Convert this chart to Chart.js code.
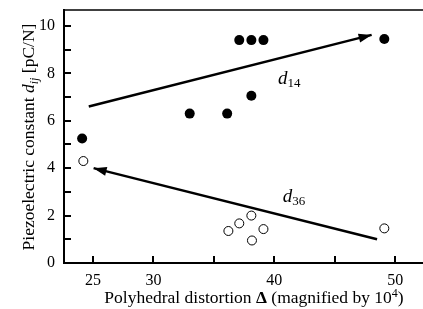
<!DOCTYPE html>
<html>
<head>
<meta charset="utf-8">
<script src="https://cdn.jsdelivr.net/npm/chart.js@4/dist/chart.umd.min.js"></script>
<style>
  html, body { margin: 0; padding: 0; background: #fff; }
  canvas { display: block; }
</style>
</head>
<body>
<canvas id="chart" width="423" height="309"></canvas>
<script>
// Data ---------------------------------------------------------------------------

var D14_X = [24.1, 33.0, 36.1, 37.1, 38.1, 38.1, 39.1, 49.1];
var D14_Y = [5.25, 6.3, 6.3, 9.4, 9.4, 7.05, 9.4, 9.45];

var D36_X = [24.2, 36.2, 37.1, 38.1, 38.15, 39.1, 49.1];
var D36_Y = [4.3, 1.35, 1.67, 2.0, 0.95, 1.43, 1.46];

// trend arrows: start point, end (tip) point
var ARROW_14_X = [24.65, 48.05];
var ARROW_14_Y = [6.6, 9.62];
var ARROW_36_X = [48.5, 25.05];
var ARROW_36_Y = [1.0, 4.0];

var X_TICKS = [25, 30, 35, 40, 45, 50];
var X_LABELS = [25, 30, 40, 50];
var Y_TICKS = [0, 1, 2, 3, 4, 5, 6, 7, 8, 9, 10];
var Y_LABELS = [0, 2, 4, 6, 8, 10];

// Style --------------------------------------------------------------------------

var FONT = '"Liberation Serif", "DejaVu Serif", serif';
var INK = '#000';
var TITLE_SIZE = 17.5;

function toPoints(xs, ys) {
    return xs.map(function (x, i) { return { x: x, y: ys[i] }; });
}

function setTicks(values) {
    return function (scale) {
        scale.ticks = values.map(function (v) { return { value: v }; });
    };
}

function drawMixed(ctx, parts, x, y, align) {
    var total = 0;
    parts.forEach(function (p) {
        ctx.font = p.font;
        p.w = ctx.measureText(p.text).width;
        total += p.w;
    });
    var cx = align === 'center' ? x - total / 2 : x;
    ctx.textAlign = 'left';
    ctx.textBaseline = 'alphabetic';
    parts.forEach(function (p) {
        ctx.font = p.font;
        ctx.fillText(p.text, cx, y + (p.dy || 0));
        cx += p.w;
    });
}

var decorPlugin = {
    id: 'decor',
    beforeDraw: function (chart) {
        var ctx = chart.ctx;
        ctx.save();
        ctx.fillStyle = '#fff';
        ctx.fillRect(0, 0, chart.width, chart.height);
        ctx.restore();
    },
    afterDraw: function (chart) {
        var ctx = chart.ctx;
        var area = chart.chartArea;
        var xs = chart.scales.x;
        var ys = chart.scales.y;
        var t = TITLE_SIZE;
        ctx.save();
        ctx.strokeStyle = INK;
        ctx.fillStyle = INK;

        // top frame line
        ctx.lineWidth = 1.5;
        ctx.beginPath();
        ctx.moveTo(area.left, area.top);
        ctx.lineTo(chart.width, area.top);
        ctx.stroke();

        // inward ticks
        ctx.lineWidth = 2;
        ctx.beginPath();
        X_TICKS.forEach(function (v) {
            var px = Math.round(xs.getPixelForValue(v));
            ctx.moveTo(px, area.bottom);
            ctx.lineTo(px, area.bottom - 7);
        });
        Y_TICKS.forEach(function (v) {
            var py = Math.round(ys.getPixelForValue(v));
            ctx.moveTo(area.left, py);
            ctx.lineTo(area.left + 7, py);
        });
        ctx.stroke();

        // arrow heads at the tip of each trend line
        [[ARROW_14_X, ARROW_14_Y], [ARROW_36_X, ARROW_36_Y]].forEach(function (a) {
            var x0 = xs.getPixelForValue(a[0][0]), y0 = ys.getPixelForValue(a[1][0]);
            var x1 = xs.getPixelForValue(a[0][1]), y1 = ys.getPixelForValue(a[1][1]);
            var ang = Math.atan2(y1 - y0, x1 - x0);
            var len = 13, half = 4.5;
            ctx.save();
            ctx.translate(x1, y1);
            ctx.rotate(ang);
            ctx.beginPath();
            ctx.moveTo(0, 0);
            ctx.lineTo(-len, -half);
            ctx.lineTo(-len, half);
            ctx.closePath();
            ctx.fill();
            ctx.restore();
        });

        // series labels
        var lx = xs.getPixelForValue(40.3), ly = ys.getPixelForValue(7.55);
        drawMixed(ctx, [
            { text: 'd', font: 'italic 19px ' + FONT },
            { text: '14', font: '13px ' + FONT, dy: 3 }
        ], lx, ly, 'left');
        lx = xs.getPixelForValue(40.7);
        ly = ys.getPixelForValue(2.57);
        drawMixed(ctx, [
            { text: 'd', font: 'italic 19px ' + FONT },
            { text: '36', font: '13px ' + FONT, dy: 3 }
        ], lx, ly, 'left');

        // x axis title
        drawMixed(ctx, [
            { text: 'Polyhedral distortion ', font: t + 'px ' + FONT },
            { text: 'Δ', font: 'bold ' + t + 'px ' + FONT },
            { text: ' (magnified by 10', font: t + 'px ' + FONT },
            { text: '4', font: '12px ' + FONT, dy: -6 },
            { text: ')', font: t + 'px ' + FONT }
        ], 254, 303, 'center');

        // y axis title
        ctx.translate(34, 137);
        ctx.rotate(-Math.PI / 2);
        drawMixed(ctx, [
            { text: 'Piezoelectric constant ', font: t + 'px ' + FONT },
            { text: 'd', font: 'italic ' + t + 'px ' + FONT },
            { text: 'ij', font: 'italic 12px ' + FONT, dy: 4 },
            { text: ' [pC/N]', font: t + 'px ' + FONT }
        ], 0, 0, 'center');

        ctx.restore();
    }
};

var arrowLine = {
    type: 'line',
    borderColor: INK,
    borderWidth: 2.5,
    borderCapStyle: 'butt',
    pointRadius: 0,
    fill: false,
    showLine: true
};

new Chart(document.getElementById('chart'), {
    type: 'scatter',
    data: {
        datasets: [
            Object.assign({ label: 'd14 trend', data: toPoints(ARROW_14_X, ARROW_14_Y) }, arrowLine),
            Object.assign({ label: 'd36 trend', data: toPoints(ARROW_36_X, ARROW_36_Y) }, arrowLine),
            {
                label: 'd14',
                data: toPoints(D14_X, D14_Y),
                pointRadius: 5,
                backgroundColor: INK,
                borderColor: INK,
                borderWidth: 0
            },
            {
                label: 'd36',
                data: toPoints(D36_X, D36_Y),
                pointRadius: 4.5,
                backgroundColor: '#fff',
                borderColor: INK,
                borderWidth: 1
            }
        ]
    },
    options: {
        responsive: false,
        animation: false,
        events: [],
        layout: { autoPadding: false, padding: { top: 10, right: 0, left: 0, bottom: 0 } },
        plugins: {
            legend: { display: false },
            tooltip: { enabled: false }
        },
        scales: {
            x: {
                type: 'linear',
                min: 22.6,
                max: 52.3,
                afterBuildTicks: setTicks(X_LABELS),
                afterFit: function (s) {
                    s.height = 46;
                    s.paddingLeft = 0;
                    s.paddingRight = 0;
                },
                grid: { display: false, drawTicks: false },
                border: { display: true, color: INK, width: 2 },
                ticks: { padding: 8, color: INK, font: { family: FONT, size: 16 } }
            },
            y: {
                type: 'linear',
                min: 0,
                max: 10.67,
                afterBuildTicks: setTicks(Y_LABELS),
                afterFit: function (s) {
                    s.width = 64;
                    s.paddingTop = 0;
                    s.paddingBottom = 0;
                },
                grid: { display: false, drawTicks: false },
                border: { display: true, color: INK, width: 2 },
                ticks: { padding: 9, color: INK, font: { family: FONT, size: 16 } }
            }
        }
    },
    plugins: [decorPlugin]
});
</script>
</body>
</html>
